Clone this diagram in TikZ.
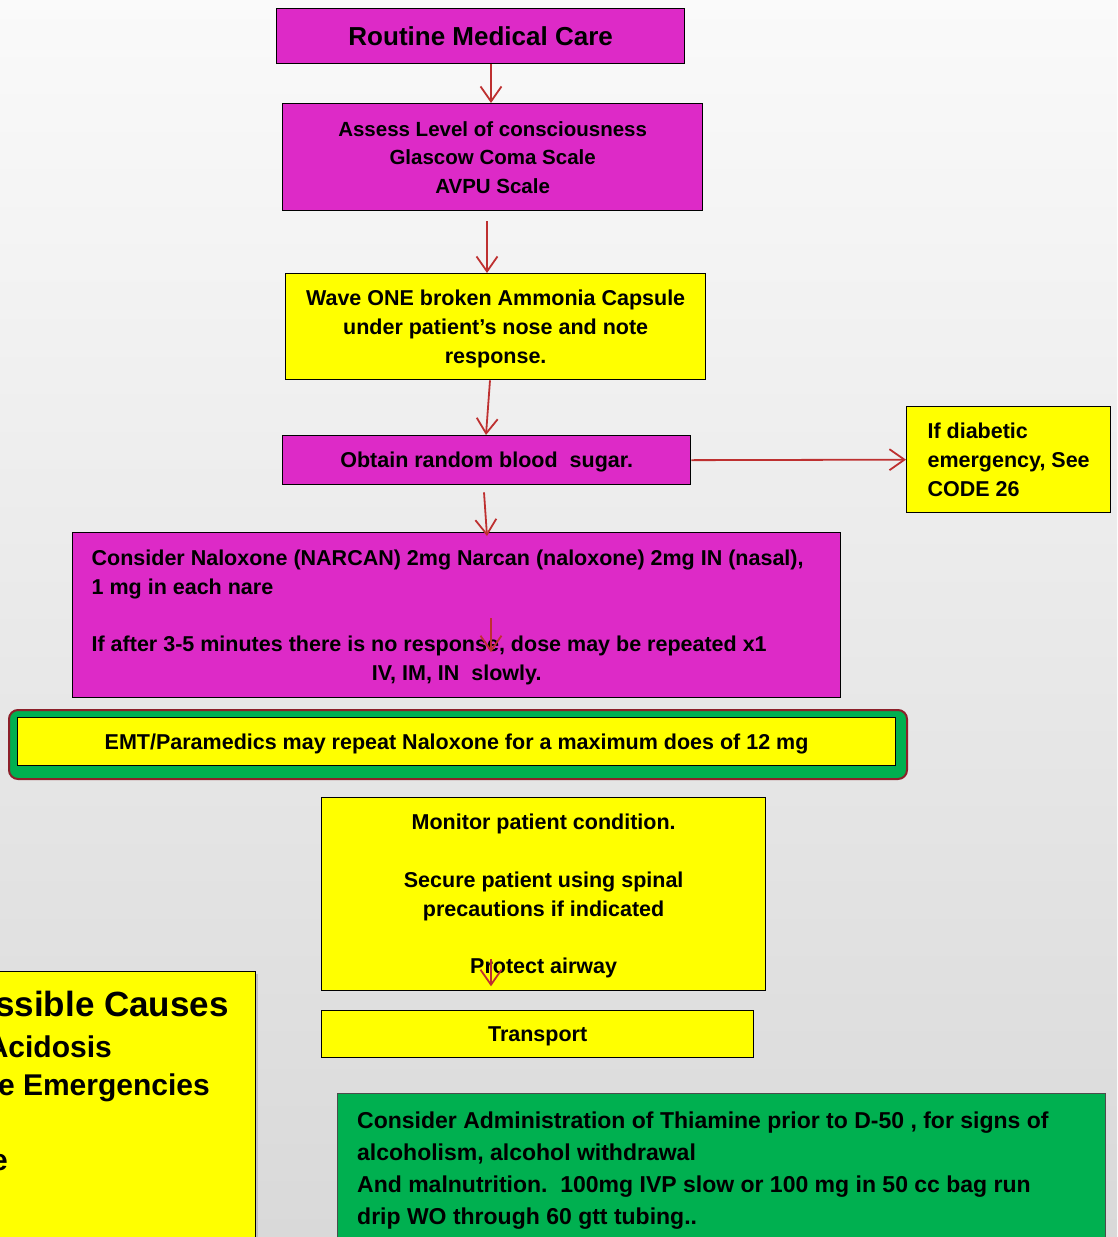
\documentclass[tikz,border=0pt]{standalone}
\usepackage{fontspec}
\setmainfont{Liberation Sans}
\usetikzlibrary{arrows.meta,calc}

\definecolor{boxmagenta}{RGB}{221,42,199}
\definecolor{boxyellow}{RGB}{255,255,0}
\definecolor{boxgreen}{RGB}{0,176,80}
\definecolor{flowred}{RGB}{190,48,48}
\definecolor{rimred}{RGB}{140,32,42}
\definecolor{bgtop}{RGB}{250,250,250}
\definecolor{bgbottom}{RGB}{217,217,217}

\newcommand{\setfs}[2]{\fontsize{#1}{#2}\selectfont}

\begin{document}
\begin{tikzpicture}[x=1pt,y=-1pt,
  stepbox/.style={draw=black, line width=1.3pt, inner sep=0pt, anchor=north west,
                  align=center, text depth=0pt, font=\bfseries\setfs{21.5}{28.8}},
  magbox/.style={stepbox, fill=boxmagenta},
  yelbox/.style={stepbox, fill=boxyellow},
  plaintext/.style={inner sep=0pt, font=\bfseries},
  flow/.style={draw=flowred, line width=1.8pt,
               -{Straight Barb[length=15pt,width=21pt,line width=1.8pt]}}]

% page and background
\useasboundingbox (0,0) rectangle (1117,1237);
\clip (0,0) rectangle (1117,1237);
\shade[top color=bgtop, bottom color=bgbottom] (0,0) rectangle (1117,1237);

% x positions of the vertical connectors
\coordinate (xa) at (491,0);
\coordinate (xb) at (487,0);
\coordinate (xc) at (490,0);
\coordinate (xd) at (486,0);
\coordinate (xe) at (484,0);

% flow boxes
\node[magbox, minimum width=408, minimum height=55, font=\bfseries\setfs{26}{30}]
  (routine) at (276,8) {Routine Medical Care};

\node[magbox, minimum width=420, minimum height=107, font=\bfseries\setfs{20.5}{28.5}]
  (assess) at (282,103) {Assess Level of consciousness\\Glascow Coma Scale\\AVPU Scale};

\node[yelbox, minimum width=420, minimum height=106]
  (wave) at (285,273) {Wave ONE broken Ammonia Capsule\\under patient’s nose and note\\response.};

\node[magbox, minimum width=408, minimum height=49]
  (obtain) at (282,435) {Obtain random blood\ \ sugar.};

\node[yelbox, minimum width=204, minimum height=106, align=left]
  (diabetic) at (906,406) {If diabetic\\emergency, See\\CODE 26};

\node[magbox, minimum width=768, minimum height=165, align=left]
  (naloxone) at (72,532)
  {Consider Naloxone (NARCAN) 2mg Narcan (naloxone) 2mg IN (nasal),\\
   1 mg in each nare\\[28.8pt]
   If after 3-5 minutes there is no response, dose may be repeated x1\\
   \makebox[730pt][c]{IV, IM, IN\ \ slowly.}};

% maximum dose banner
\node[draw=rimred, line width=2pt, fill=boxgreen, rounded corners=9pt, anchor=north west,
      minimum width=898, minimum height=69, inner sep=0pt]
  (emtframe) at (8,709) {};
\node[yelbox, line width=1.2pt, minimum width=878, minimum height=48]
  (emt) at (17,717) {EMT/Paramedics may repeat Naloxone for a maximum does of 12 mg};

\node[yelbox, minimum width=444, minimum height=193]
  (monitor) at (321,797)
  {Monitor patient condition.\\[28.8pt]
   Secure patient using spinal\\precautions if indicated\\[28.8pt]
   Protect airway};

\node[yelbox, minimum width=432, minimum height=47]
  (transport) at (321,1010) {Transport};

% thiamine note
\node[stepbox, fill=boxgreen, draw=black!70, minimum width=768, minimum height=170]
  (thiamine) at (337,1093) {};
\node[plaintext, anchor=north west, align=left, font=\bfseries\setfs{23}{32}]
  (thiatext) at (357,1112)
  {Consider Administration of Thiamine prior to D-50 , for signs of\\
   alcoholism, alcohol withdrawal\\
   And malnutrition.\ \ 100mg IVP slow or 100 mg in 50 cc bag run\\
   drip WO through 60 gtt tubing..};

% causes panel at the lower left
\fill[black!25] (-20,974) rectangle (258,1260);
\node[yelbox, minimum width=275, minimum height=290]
  (causes) at (-20,971) {};
\node[plaintext, anchor=base east, font=\bfseries\setfs{35}{40}]
  (causeshead) at (229,1016) {Possible Causes};
\node[plaintext, anchor=base east, font=\bfseries\setfs{30}{36}]
  (causeone) at (112,1057) {Acidosis};
\node[plaintext, anchor=base east, font=\bfseries\setfs{30}{36}]
  (causetwo) at (210,1095) {e Emergencies};
\node[plaintext, anchor=base east, font=\bfseries\setfs{30}{36}]
  (causethree) at (8,1170) {e};

% connectors
\draw[flow] (routine.south -| xa) -- (assess.north -| xa);
\draw[flow] ($(assess.south -| xb)+(0,10)$) -- (wave.north -| xb);
\draw[flow] (wave.south -| xc) -- (obtain.north -| xd);
\draw[flow] (obtain.east) -- (diabetic.west);
\draw[flow] ($(obtain.south -| xe)+(0,7)$) -- ($(naloxone.north -| xb)+(0,4)$);
\draw[flow] ($(naloxone.south -| xa)+(0,-80)$) -- ($(naloxone.south -| xa)+(0,-46)$);
\draw[flow] ($(monitor.south -| xa)+(0,-32)$) -- ($(monitor.south -| xa)+(0,-5)$);

\end{tikzpicture}
\end{document}
